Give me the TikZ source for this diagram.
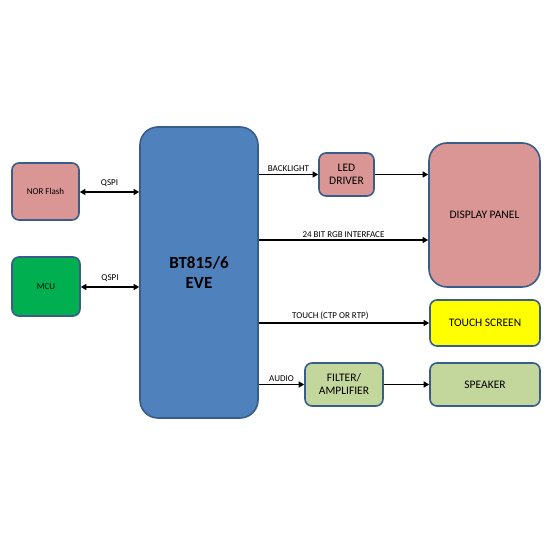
\documentclass[tikz,border=0pt]{standalone}
\usepackage{fontspec}
\setmainfont{Carlito}
\usetikzlibrary{arrows.meta,positioning,calc}
\definecolor{eveblue}{HTML}{4F81BD}
\definecolor{eveedge}{HTML}{385D8A}
\definecolor{evepink}{HTML}{D99694}
\definecolor{evegreen}{HTML}{00B050}
\definecolor{eveyellow}{HTML}{FFFF00}
\definecolor{evesage}{HTML}{C3D69B}
\tikzset{
  box/.style={draw=eveedge, line width=1.6pt, rounded corners=7pt, align=center, font=\fontsize{11.5}{13}\selectfont, inner sep=0pt},
  lnk/.style={-{Triangle[length=5.5pt,width=6pt]}, line width=1.5pt, color=black},
  dlnk/.style={{Triangle[length=5.5pt,width=6pt]}-{Triangle[length=5.5pt,width=6pt]}, line width=1.5pt, color=black},
  lbl/.style={font=\fontsize{9}{10}\selectfont, inner sep=2pt},
}
\begin{document}
\begin{tikzpicture}[x=1pt,y=1pt]
  \useasboundingbox[fill=white] (0,0) rectangle (546,546);
  % host side
  \node[box, fill=evepink, minimum width=67pt, minimum height=57pt, font=\fontsize{9}{10}\selectfont] (nor) at (45.5,354.5) {NOR Flash};
  \node[box, fill=evegreen, minimum width=68pt, minimum height=59pt, font=\fontsize{9}{10}\selectfont] (mcu) at (46,259.5) {MCU};
  \node[box, fill=eveblue, rounded corners=18pt, minimum width=118pt, minimum height=291pt, font=\fontsize{17}{20}\selectfont\bfseries] (eve) at (199,273.5) {BT815/6\\EVE};
  % display side
  \node[box, fill=evepink, minimum width=55pt, minimum height=43pt] (led) at (346.5,371.5) {LED\\DRIVER};
  \node[box, fill=evepink, rounded corners=18pt, minimum width=111pt, minimum height=144pt] (disp) at (484.5,331) {DISPLAY PANEL};
  \node[box, fill=eveyellow, minimum width=110pt, minimum height=46pt] (touch) at (485,223) {TOUCH SCREEN};
  \node[box, fill=evesage, minimum width=78pt, minimum height=43pt] (filt) at (344,161.5) {FILTER/\\AMPLIFIER};
  \node[box, fill=evesage, minimum width=110pt, minimum height=43pt] (spk) at (485,161.5) {SPEAKER};
  \coordinate (rgb) at (0,306);
  % connectors
  \draw[dlnk] (nor.east |- 0,354) -- node[lbl, above=3pt] {QSPI} (eve.west |- 0,354);
  \draw[dlnk] (mcu.east |- 0,259) -- node[lbl, above=3pt] {QSPI} (eve.west |- 0,259);
  \draw[lnk] (eve.east |- led.west) -- node[lbl, above] {BACKLIGHT} (led.west);
  \draw[lnk] (led.east) -- (disp.west |- led.east);
  \draw[lnk] (eve.east |- rgb) -- node[lbl, above] {24 BIT RGB INTERFACE} (disp.west |- rgb);
  \draw[lnk] (eve.east |- touch.west) -- node[lbl, above, pos=0.42] {TOUCH (CTP OR RTP)} (touch.west);
  \draw[lnk] (eve.east |- filt.west) -- node[lbl, above] {AUDIO} (filt.west);
  \draw[lnk] (filt.east) -- (spk.west);
\end{tikzpicture}
\end{document}
